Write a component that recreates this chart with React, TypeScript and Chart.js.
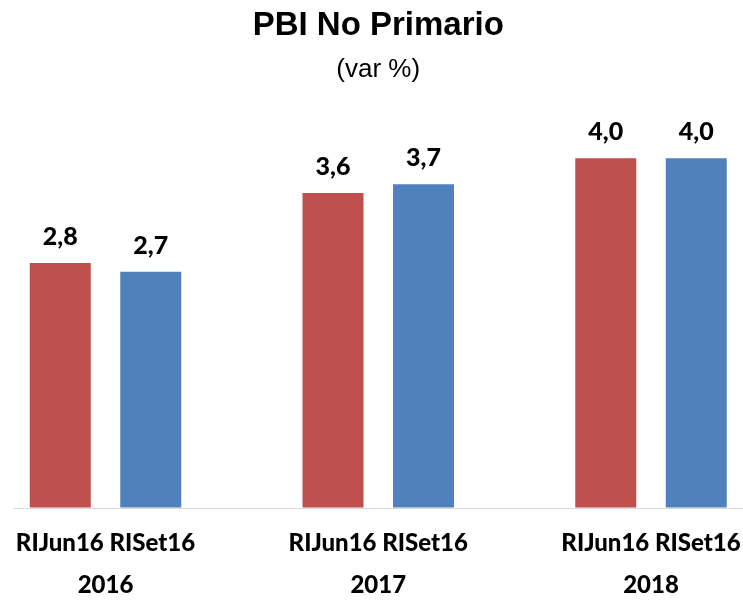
import React, { useEffect, useRef } from "react";
import { Chart, registerables } from "chart.js";

Chart.register(...registerables);

const groupLabels: string[][] = [
  ["RIJun16 RISet16", "2016"],
  ["RIJun16 RISet16", "2017"],
  ["RIJun16 RISet16", "2018"],
];
const seriesNames = ["RIJun16", "RISet16"];
const riJun16 = [2.8, 3.6, 4.0];
const riSet16 = [2.7, 3.7, 4.0];
const colors = ["#C0504D", "#4F81BD"];

const fmt = (v: number) => v.toFixed(1).replace(".", ",");

const valueLabels = {
  id: "valueLabels",
  afterDatasetsDraw(chart: any) {
    const ctx = chart.ctx;
    ctx.save();
    ctx.font = "900 25px Lato";
    ctx.fillStyle = "#000";
    ctx.textAlign = "center";
    ctx.textBaseline = "middle";
    chart.data.datasets.forEach((ds: any, i: number) => {
      const meta = chart.getDatasetMeta(i);
      meta.data.forEach((el: any, j: number) => {
        ctx.fillText(fmt(ds.data[j]), el.x, el.y - 26);
      });
    });
    ctx.restore();
  },
};

const baseLine = {
  id: "baseLine",
  beforeDatasetsDraw(chart: any) {
    const ctx = chart.ctx;
    const y = Math.round(chart.scales.y.getPixelForValue(0)) + 0.5;
    ctx.save();
    ctx.strokeStyle = "#D9D9D9";
    ctx.lineWidth = 1;
    ctx.beginPath();
    ctx.moveTo(14, y);
    ctx.lineTo(chart.width, y);
    ctx.stroke();
    ctx.restore();
  },
};

export default function App() {
  const ref = useRef<HTMLCanvasElement>(null);
  useEffect(() => {
    document.body.style.margin = "0";
    const chart = new Chart(ref.current!, {
      type: "bar",
      data: {
        labels: groupLabels,
        datasets: [
          {
            label: seriesNames[0],
            data: riJun16,
            backgroundColor: colors[0],
            categoryPercentage: 0.6636,
            barPercentage: 0.674,
            clip: false as any,
          },
          {
            label: seriesNames[1],
            data: riSet16,
            backgroundColor: colors[1],
            categoryPercentage: 0.6636,
            barPercentage: 0.674,
            clip: false as any,
          },
        ],
      },
      options: {
        responsive: false,
        animation: false,
        layout: { padding: { left: 105.5, right: 92, top: 0, bottom: 0 } },
        plugins: {
          legend: { display: false },
          tooltip: { enabled: false },
          title: {
            display: true,
            text: "PBI No Primario",
            color: "#000",
            font: { family: "'Liberation Sans', Arial", size: 33, weight: "bold", lineHeight: 1.2 },
            padding: { top: 6, bottom: 0 },
          },
          subtitle: {
            display: true,
            text: "(var %)",
            color: "#000",
            font: { family: "'Liberation Sans', Arial", size: 26, weight: "normal", lineHeight: 1.2 },
            padding: { top: 9, bottom: 28.7 },
          },
        },
        scales: {
          x: {
            offset: false,
            grid: { display: false, drawTicks: false },
            border: { display: false },
            ticks: {
              color: "#000",
              padding: 15,
              maxRotation: 0,
              autoSkip: false,
              font: { family: "Lato", size: 24, weight: "900", lineHeight: 1.75 },
            },
            afterFit: (scale: any) => {
              scale.height = 93.5;
              scale.paddingLeft = 0;
              scale.paddingRight = 0;
            },
          },
          y: {
            display: false,
            min: 0,
            max: 4.5,
          },
        },
      },
      plugins: [baseLine, valueLabels],
    });
    return () => chart.destroy();
  }, []);
  return (
    <div style={{ width: 743, height: 601 }}>
      <canvas ref={ref} width={743} height={601} style={{ display: "block" }} />
    </div>
  );
}
